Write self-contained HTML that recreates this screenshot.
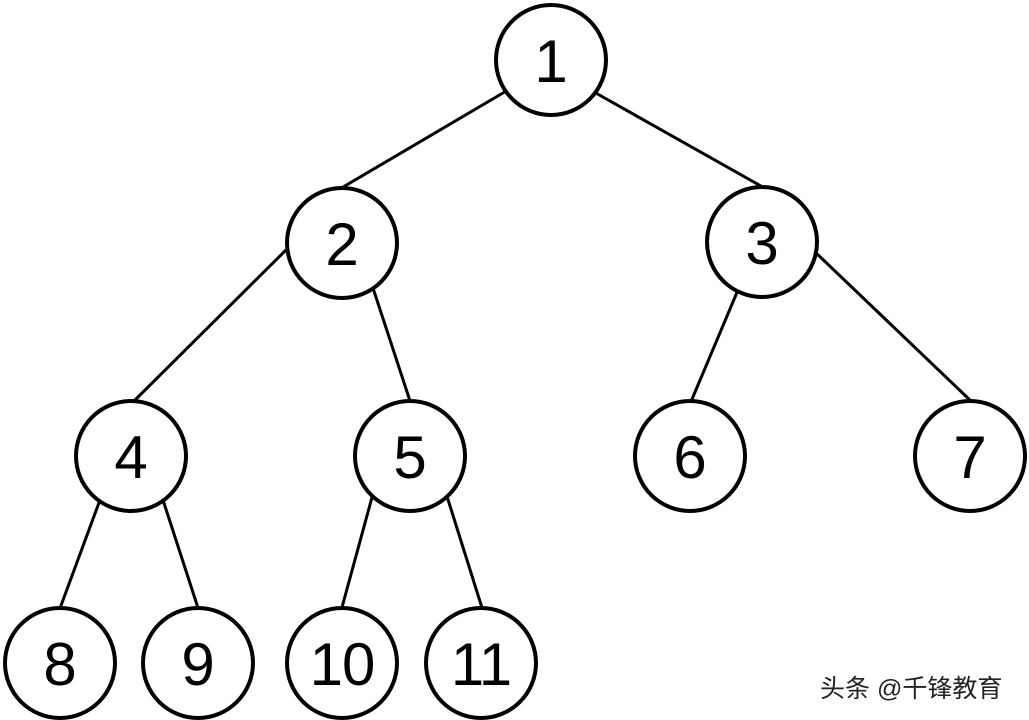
<!DOCTYPE html>
<html><head><meta charset="utf-8"><style>
html,body{margin:0;padding:0;background:#fff;width:1029px;height:720px;overflow:hidden}
svg{display:block}
text{font-family:"Liberation Sans","DejaVu Sans",sans-serif}
</style></head><body>
<svg width="1029" height="720" viewBox="0 0 1029 720">
<g stroke="#000" stroke-width="3">
<line x1="508" y1="90" x2="338" y2="190"/>
<line x1="594" y1="92" x2="768" y2="190"/>
<line x1="286" y1="250" x2="131" y2="404"/>
<line x1="372" y1="285" x2="411" y2="404"/>
<line x1="738" y1="290" x2="690" y2="404"/>
<line x1="814" y1="251" x2="972" y2="402"/>
<line x1="100" y1="500" x2="59" y2="611"/>
<line x1="163" y1="500" x2="199" y2="611"/>
<line x1="374" y1="490" x2="341" y2="611"/>
<line x1="445" y1="490" x2="483" y2="611"/>
</g>
<g fill="#fff" stroke="#000" stroke-width="4">
<circle cx="551" cy="60" r="55"/>
<circle cx="342" cy="243" r="55"/>
<circle cx="762" cy="242" r="55"/>
<circle cx="131" cy="456" r="55"/>
<circle cx="410" cy="456" r="55"/>
<circle cx="690" cy="456" r="55"/>
<circle cx="970" cy="456" r="55"/>
<circle cx="60" cy="663" r="55"/>
<circle cx="198" cy="663" r="55"/>
<circle cx="342" cy="663" r="55"/>
<circle cx="481" cy="663" r="55"/>
</g>
<g font-size="60" text-anchor="middle" fill="#000">
<text x="551" y="82">1</text>
<text x="342" y="265">2</text>
<text x="762" y="264">3</text>
<text x="131" y="478">4</text>
<text x="410" y="478">5</text>
<text x="690" y="478">6</text>
<text x="970" y="478">7</text>
<text x="60" y="685">8</text>
<text x="198" y="685">9</text>
<text x="342" y="685" letter-spacing="-1">10</text>
<text x="481" y="685" letter-spacing="-1">11</text>
</g>
<text x="820" y="697" font-size="25" fill="#222" style='font-family:"Liberation Sans","Noto Sans CJK SC",sans-serif'>头条 @千锋教育</text>
</svg>
</body></html>
